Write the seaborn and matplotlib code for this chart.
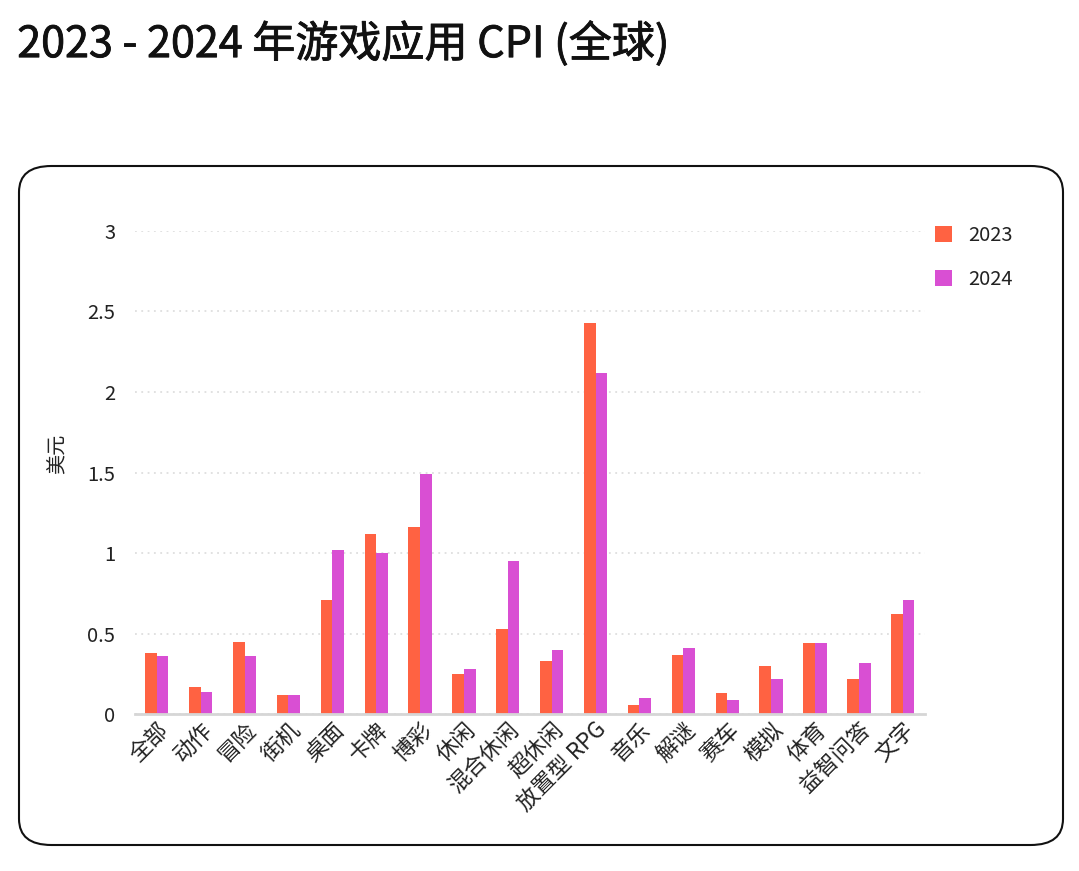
import pandas as pd
import matplotlib.pyplot as plt
import matplotlib.patheffects as pe
import seaborn as sns
from matplotlib.patches import FancyBboxPatch, Patch

categories = ["全部", "动作", "冒险", "街机", "桌面", "卡牌", "博彩", "休闲", "混合休闲", "超休闲",
              "放置型 RPG", "音乐", "解谜", "赛车", "模拟", "体育", "益智问答", "文字"]
cpi_2023 = [0.38, 0.17, 0.45, 0.12, 0.71, 1.12, 1.16, 0.25, 0.53, 0.33,
            2.43, 0.06, 0.37, 0.13, 0.30, 0.44, 0.22, 0.62]
cpi_2024 = [0.36, 0.14, 0.36, 0.12, 1.02, 1.00, 1.49, 0.28, 0.95, 0.40,
            2.12, 0.10, 0.41, 0.09, 0.22, 0.44, 0.32, 0.71]
years = ["2023", "2024"]
y_ticks = [0, 0.5, 1, 1.5, 2, 2.5, 3]
y_tick_labels = ["0", "0.5", "1", "1.5", "2", "2.5", "3"]
colors = ["#ff6242", "#d94fd3"]

sns.set_style("white")
plt.rcParams["font.family"] = ["Noto Sans CJK SC", "DejaVu Sans"]

df = pd.DataFrame({
    "category": categories * 2,
    "cpi": cpi_2023 + cpi_2024,
    "year": [years[0]] * len(categories) + [years[1]] * len(categories),
})

fig = plt.figure(figsize=(10.79, 8.71), dpi=100)
ax = fig.add_axes([0.125, 0.180, 0.732, 0.555])

sns.barplot(data=df, x="category", y="cpi", hue="year", palette=colors,
            width=0.53, saturation=1, linewidth=0, ax=ax, legend=False)

ax.set_xlim(-0.5, len(categories) - 0.5)
ax.set_ylim(0, 3.0)
ax.set_yticks(y_ticks)
ax.set_yticklabels(y_tick_labels)
ax.yaxis.grid(True, linestyle=(0, (1, 2.5)), color="#dedede", linewidth=1.3)
ax.set_axisbelow(True)
for s in ["top", "right", "left"]:
    ax.spines[s].set_visible(False)
ax.spines["bottom"].set_color("#d6d6d6")
ax.spines["bottom"].set_linewidth(2)
ax.tick_params(axis="both", length=0, labelsize=14.5, colors="#222222")
ax.tick_params(axis="y", pad=14)
ax.tick_params(axis="x", pad=3, labelsize=16)
plt.setp(ax.get_xticklabels(), rotation=45, ha="right", rotation_mode="anchor")
ax.set_xlabel("")
ax.set_ylabel("美元", fontsize=14.5, color="#222222")
ax.yaxis.set_label_coords(-0.085, 0.538)

handles = [Patch(facecolor=c, edgecolor="none") for c in colors]
fig.legend(handles, years, loc="upper left", bbox_to_anchor=(0.850, 0.762),
           frameon=False, fontsize=14.5, handlelength=0.85, handleheight=0.85,
           labelspacing=1.1, handletextpad=0.8, labelcolor="#222222")

box = FancyBboxPatch((19 / 1079, 1 - 845 / 871), (1063 - 19) / 1079, (845 - 166) / 871,
                     boxstyle="round,pad=0,rounding_size=0.03", transform=fig.transFigure,
                     facecolor="none", edgecolor="#111111", linewidth=1.5)
fig.patches.append(box)

fig.text(0.016, 0.975, "2023 - 2024 年游戏应用 CPI (全球)", fontsize=31,
         va="top", ha="left", color="#111111",
         path_effects=[pe.withStroke(linewidth=0.6, foreground="#111111")])

fig.savefig("out.png", dpi=100)
